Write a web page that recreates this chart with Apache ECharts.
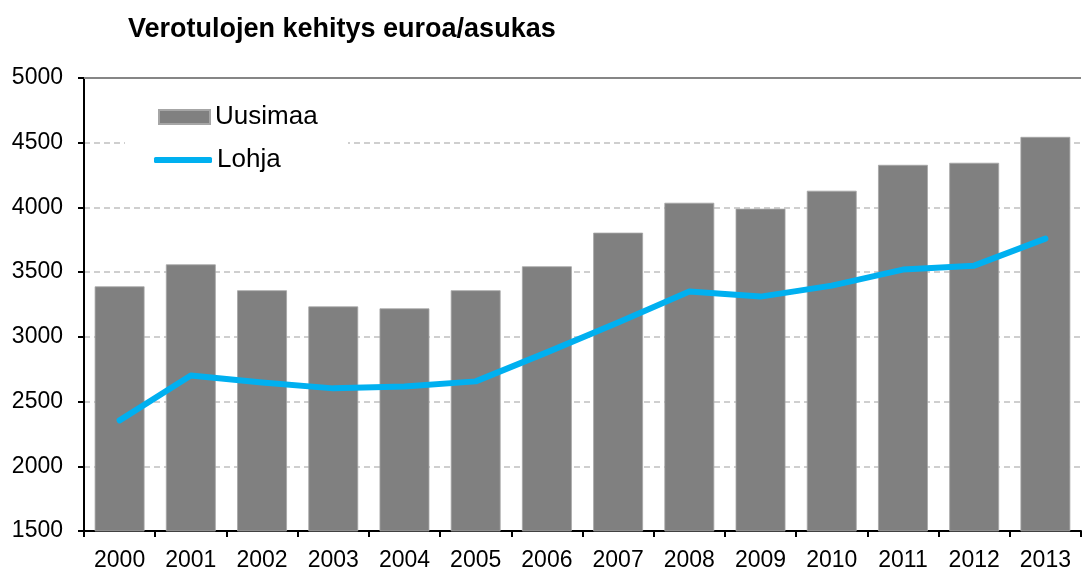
<!DOCTYPE html>
<html>
<head>
<meta charset="utf-8">
<script src="https://cdn.jsdelivr.net/npm/echarts@6/dist/echarts.min.js"></script>
<style>
html, body { margin: 0; padding: 0; background: #fff; }
#chart { width: 1084px; height: 572px; }
</style>
</head>
<body>
<div id="chart"></div>
<script>
// Verotulojen kehitys
var years = ['2000', '2001', '2002', '2003', '2004', '2005', '2006',
             '2007', '2008', '2009', '2010', '2011', '2012', '2013'];
var uusimaa = [3390, 3560, 3360, 3235, 3220, 3360, 3545,
               3805, 4036, 3990, 4129, 4329, 4345, 4545];
var lohja = [2355, 2702, 2648, 2602, 2617, 2656, 2880,
             3111, 3350, 3311, 3396, 3520, 3550, 3759];
var yTicks = [1500, 5000, 500]; // min, max, interval

var chart = echarts.init(document.getElementById('chart'));

var option = {
    backgroundColor : '#fff',
    animation : false,
    title : {
        text : 'Verotulojen kehitys euroa/asukas',
        left : 123,
        top : 11,
        textStyle : {
            fontFamily : 'Liberation Sans',
            fontSize : 27,
            fontWeight : 'bold',
            color : '#000'
        }
    },
    graphic : [{
        type : 'rect',
        z : 1,
        shape : { x : 125, y : 98, width : 223, height : 80 },
        style : { fill : '#fff' }
    }],
    legend : [{
        data : [{ name : 'Uusimaa', icon : 'rect' }],
        left : 153,
        top : 99,
        itemWidth : 51,
        itemHeight : 14,
        itemGap : 6,
        textStyle : { fontFamily : 'Liberation Sans', fontSize : 26, color : '#000' }
    }, {
        data : [{ name : 'Lohja', icon : 'roundRect' }],
        left : 149,
        top : 142,
        itemWidth : 58,
        itemHeight : 6,
        itemStyle : { borderRadius : 3 },
        textStyle : { fontFamily : 'Liberation Sans', fontSize : 26, color : '#000' }
    }],
    grid : {
        left : 84,
        right : 3,
        top : 78,
        bottom : 40,
        containLabel : false
    },
    xAxis : {
        type : 'category',
        data : years,
        axisLine : { lineStyle : { color : '#000', width : 2 } },
        axisTick : {
            show : true,
            alignWithLabel : false,
            length : 6,
            inside : false,
            lineStyle : { color : '#000', width : 2 }
        },
        axisLabel : {
            fontFamily : 'Liberation Sans',
            fontSize : 23,
            color : '#000',
            margin : 18,
            interval : 0
        }
    },
    yAxis : {
        type : 'value',
        min : yTicks[0],
        max : yTicks[1],
        interval : yTicks[2],
        axisLine : { show : true, lineStyle : { color : '#000', width : 2 } },
        axisTick : { show : true, length : 6, lineStyle : { color : '#000', width : 2 } },
        axisLabel : {
            fontFamily : 'Liberation Sans',
            fontSize : 23,
            color : '#000',
            margin : 21,
            formatter : function(v) { return String(v); }
        },
        splitLine : {
            show : true,
            lineStyle : { color : '#c0c0c0', type : [6, 4], width : 1.5 }
        }
    },
    series : [{
        name : 'Uusimaa',
        type : 'bar',
        data : uusimaa,
        barCategoryGap : '30%',
        z : 2,
        itemStyle : { color : '#808080', borderColor : '#a6a6a6', borderWidth : 0.8 },
        markLine : {
            silent : true,
            symbol : 'none',
            label : { show : false },
            lineStyle : { color : '#868686', type : 'solid', width : 2 },
            data : [{ yAxis : yTicks[1] }]
        }
    }, {
        name : 'Lohja',
        type : 'line',
        data : lohja,
        z : 3,
        symbol : 'none',
        color : '#00b0f0',
        lineStyle : { color : '#00b0f0', width : 6, cap : 'round', join : 'round' }
    }]
};
chart.setOption(option);

window.addEventListener('resize', function() {
    chart.resize()
})
</script>
</body>
</html>
